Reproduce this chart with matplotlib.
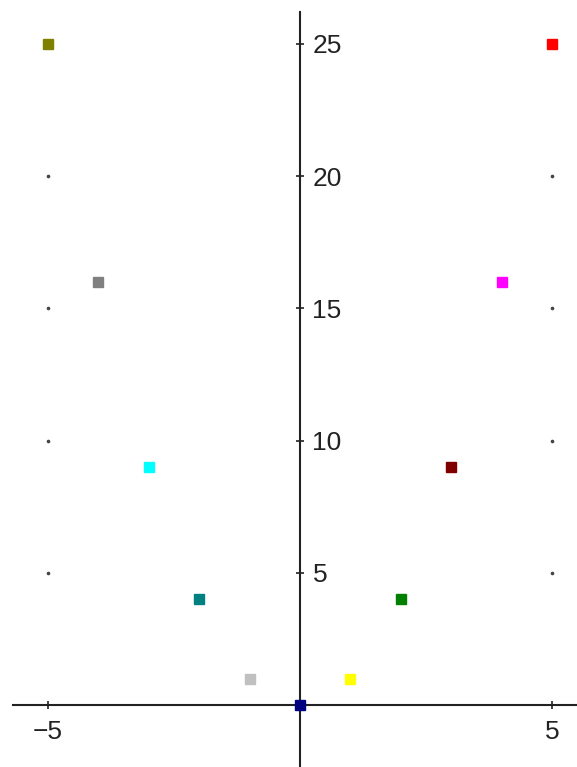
import matplotlib.pyplot as plt

# values: y = x^2 for integer x
x_vals = [-5, -4, -3, -2, -1, 0, 1, 2, 3, 4, 5]
y_vals = [25, 16, 9, 4, 1, 0, 1, 4, 9, 16, 25]
point_colors = ['#808000', '#808080', '#00ffff', '#008080', '#c0c0c0', '#000080',
                '#ffff00', '#008000', '#800000', '#ff00ff', '#ff0000']

x_ticks = [-5, 5]
y_ticks = [5, 10, 15, 20, 25]
grid_x = [-5, 5]
grid_y = [5, 10, 15, 20]

plt.rcParams['font.family'] = ['Liberation Sans', 'DejaVu Sans']

fig = plt.figure(figsize=(5.77, 7.67), dpi=100)
ax = fig.add_axes([0, 0, 1, 1])
ax.set_xlim(-5.952, 5.496)
ax.set_ylim(-2.345, 26.66)

axis_color = '#222222'
for side in ['left', 'top']:
    ax.spines[side].set_visible(False)
ax.spines['bottom'].set_position(('data', 0))
ax.spines['bottom'].set_bounds(-5.69, 5.496)
ax.spines['right'].set_position(('data', 0))
ax.spines['right'].set_bounds(-2.345, 26.2)
for side in ['bottom', 'right']:
    ax.spines[side].set_color(axis_color)
    ax.spines[side].set_linewidth(1.5)

ax.yaxis.tick_right()
ax.set_xticks(x_ticks)
ax.set_yticks(y_ticks)
ax.tick_params(axis='both', direction='inout', length=6, width=1.2,
               color=axis_color, labelcolor=axis_color, labelsize=19)
ax.tick_params(axis='x', pad=8)
ax.tick_params(axis='y', pad=6)

# dotted grid at the outer columns
for gx in grid_x:
    ax.plot([gx] * len(grid_y), grid_y, linestyle='none', marker='o',
            markersize=1.6, color='#444444')

for xv, yv, c in zip(x_vals, y_vals, point_colors):
    ax.plot(xv, yv, linestyle='none', marker='s', markersize=7,
            markerfacecolor=c, markeredgecolor=c, zorder=5, clip_on=False)

fig.savefig('out.png', dpi=100)
